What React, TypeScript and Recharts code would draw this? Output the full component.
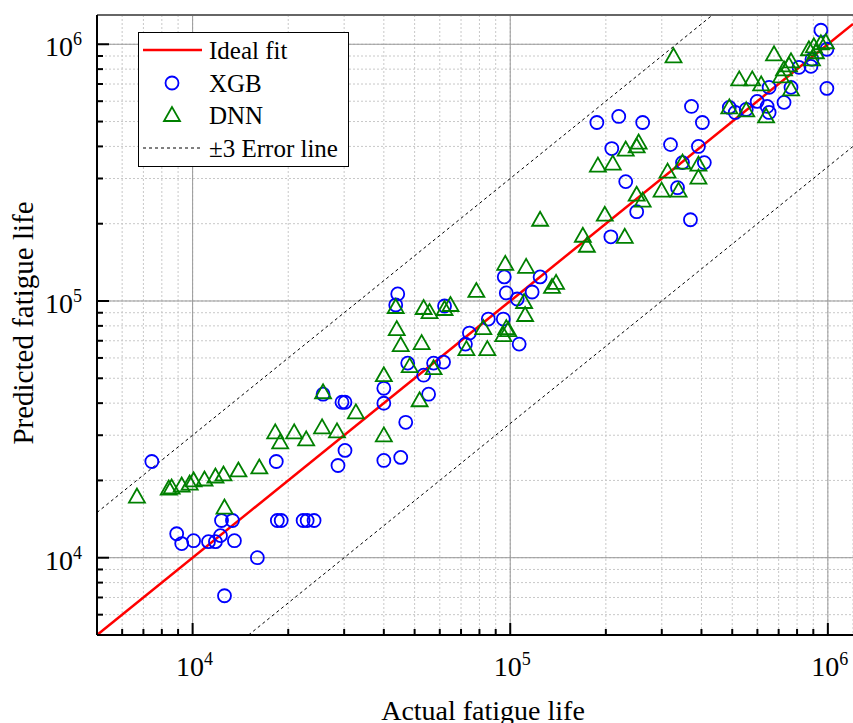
import { CartesianGrid, Label, ReferenceLine, Scatter, ScatterChart, XAxis, YAxis } from 'recharts';

const FONT = '"Liberation Serif", "Times New Roman", Times, serif';

const X_DOMAIN = [5000, 1200000];
const Y_DOMAIN = [5000, 1300000];
const X_TICKS = [
  6000, 7000, 8000, 9000, 10000, 20000, 30000, 40000, 50000, 60000, 70000, 80000, 90000,
  100000, 200000, 300000, 400000, 500000, 600000, 700000, 800000, 900000, 1000000,
];
const Y_TICKS = X_TICKS;
const DECADES = [10000, 100000, 1000000];
const ERROR_FACTOR = 3;

const XGB_ACTUAL = [
  7440, 8910, 9240, 10070, 11220, 11800, 12240, 12330, 13350, 13540, 15990, 12600, 18480, 19010,
  22280, 22940, 24120, 18340, 25750, 29530, 30180, 30180, 28690, 39990, 40000, 40000, 45210, 46880,
  47560, 57370, 61660, 53380, 55330, 44240, 43600, 62110, 74380, 72270, 85310, 95080, 106700, 95760,
  97160, 105200, 117200, 124200, 207400, 250100, 369300, 336300, 231000, 348600, 408400, 208800,
  319600, 391300, 187400, 219600, 261200, 372100, 402700, 489500, 511000, 553400, 599000, 643900,
  653300, 653300, 727800, 811000, 884500, 993000, 950900, 993000, 891300, 765600,
];
const XGB_PREDICTED = [
  23700, 12400, 11350, 11650, 11550, 11550, 12190, 13960, 13960, 11650, 10000, 7110, 13960, 13960,
  13960, 13960, 13960, 23700, 43350, 40330, 40330, 26180, 22870, 45710, 39960, 23930, 24590, 33680,
  57280, 57280, 57800, 51400, 43350, 106500, 96470, 95600, 74990, 67920, 85050, 85050, 67920, 124100,
  107500, 101800, 108400, 124100, 177800, 222700, 207200, 276300, 291700, 345900, 345900, 392400,
  406500, 399800, 495600, 523300, 495600, 572400, 495600, 567600, 542500, 557200, 598900, 572400,
  542500, 679200, 593600, 813000, 820000, 673000, 1134000, 956000, 873600, 679200,
];

const DNN_ACTUAL = [
  6680, 8410, 8590, 9240, 9790, 10070, 10900, 11800, 12510, 13940, 16220, 12600, 18200, 18870,
  20880, 22780, 25560, 28480, 25750, 32660, 40000, 40000, 43600, 43920, 45210, 52600, 48250, 57370,
  51840, 53380, 55720, 62110, 64850, 78240, 72780, 84700, 82270, 96450, 112200, 97160, 98560, 95080,
  110600, 111400, 135400, 139400, 169300, 174300, 198500, 229400, 188800, 210300, 231000, 250100,
  253700, 250100, 261200, 299600, 338800, 312800, 348600, 391300, 391300, 326700, 489500, 553400,
  639100, 526000, 578000, 616600, 677000, 712300, 727800, 754500, 765600, 765600, 871800, 903600,
  917000, 950900, 985700, 891300, 124200,
];
const DNN_PREDICTED = [
  17310, 18600, 18770, 19110, 19450, 20000, 20170, 20720, 21100, 21870, 22470, 15680, 30790, 28130,
  30790, 28900, 32200, 31060, 44110, 36840, 51400, 29970, 94760, 77730, 67330, 68550, 55730, 54730,
  41050, 93910, 90570, 93060, 96470, 109400, 64940, 64940, 78430, 139500, 135800, 78430, 77030, 73650,
  99100, 88170, 113400, 117600, 179500, 164100, 216800, 177800, 336800, 342900, 389000, 399800,
  414200, 259400, 245900, 269000, 269000, 319100, 345900, 339800, 302200, 897700, 567600, 552400,
  523300, 730000, 730000, 698000, 914000, 749900, 798700, 827900, 858400, 667200, 956000, 982000,
  930600, 1009000, 1018000, 873600, 207200,
];

const LEGEND_ITEMS = ['Ideal fit', 'XGB', 'DNN', '\u00b13 Error line'];

const xgbData = XGB_ACTUAL.map((x, i) => ({ x, y: XGB_PREDICTED[i] }));
const dnnData = DNN_ACTUAL.map((x, i) => ({ x, y: DNN_PREDICTED[i] }));

const isDecade = (v: number) => Math.abs(Math.log10(v) - Math.round(Math.log10(v))) < 1e-6;

function XTick({ x, y, payload }: any) {
  const v = payload.value;
  const major = isDecade(v);
  return (
    <g>
      <line x1={x} y1={y} x2={x} y2={y - (major ? 12 : 6)} stroke="#000" strokeWidth={2} />
      {major && (
        <text x={x + 2} y={y + 41} textAnchor="middle" fontFamily={FONT} fontSize={28} fill="#000">
          10
          <tspan dy={-11} fontSize={18}>
            {Math.round(Math.log10(v))}
          </tspan>
        </text>
      )}
    </g>
  );
}

function YTick({ x, y, payload }: any) {
  const v = payload.value;
  const major = isDecade(v);
  return (
    <g>
      <line x1={x} y1={y} x2={x + (major ? 12 : 6)} y2={y} stroke="#000" strokeWidth={2} />
      {major && (
        <text x={x - 15} y={y + 12} textAnchor="end" fontFamily={FONT} fontSize={28} fill="#000">
          10
          <tspan dy={-11} fontSize={18}>
            {Math.round(Math.log10(v))}
          </tspan>
        </text>
      )}
    </g>
  );
}

const Circle = ({ cx, cy }: any) => (
  <circle cx={cx} cy={cy} r={6.5} fill="none" stroke="#0000ff" strokeWidth={1.8} />
);

const Triangle = ({ cx, cy }: any) => (
  <polygon
    points={`${cx},${cy - 8} ${cx - 8},${cy + 6} ${cx + 8},${cy + 6}`}
    fill="none"
    stroke="#008000"
    strokeWidth={1.8}
  />
);

function LegendBox() {
  const rows = [18, 51, 83, 116];
  return (
    <svg width={212} height={136} style={{ position: 'absolute', left: 138, top: 32 }}>
      <rect x={0.5} y={0.5} width={210} height={134} fill="#fff" stroke="#000" strokeWidth={1} />
      <line x1={5} y1={rows[0]} x2={64} y2={rows[0]} stroke="#ff0000" strokeWidth={2.5} />
      <Circle cx={34} cy={rows[1]} />
      <Triangle cx={34} cy={rows[2]} />
      <line x1={5} y1={rows[3]} x2={64} y2={rows[3]} stroke="#000" strokeWidth={1} strokeDasharray="3 3" />
      {LEGEND_ITEMS.map((label, i) => (
        <text key={label} x={71} y={rows[i] + 9} fontFamily={FONT} fontSize={25} fill="#000">
          {label}
        </text>
      ))}
    </svg>
  );
}

export default function App() {
  const [xMin, xMax] = X_DOMAIN;
  const [yMin, yMax] = Y_DOMAIN;
  return (
    <div style={{ position: 'absolute', left: 0, top: 0, width: 853, height: 723, background: '#fff' }}>
      <ScatterChart width={853} height={723} margin={{ top: 15, right: 0, bottom: 0, left: 0 }}>
        <CartesianGrid stroke="#c8c8c8" strokeDasharray="2 2" />
        {DECADES.map((d) => (
          <ReferenceLine key={`vx${d}`} x={d} stroke="#999" strokeWidth={1} />
        ))}
        {DECADES.map((d) => (
          <ReferenceLine key={`hy${d}`} y={d} stroke="#999" strokeWidth={1} />
        ))}
        <ReferenceLine y={yMax} stroke="#666" strokeWidth={2} />
        <XAxis
          dataKey="x"
          type="number"
          scale="log"
          domain={X_DOMAIN}
          allowDataOverflow
          ticks={X_TICKS}
          interval={0}
          tick={<XTick />}
          tickLine={false}
          tickSize={0}
          tickMargin={0}
          axisLine={{ stroke: '#000', strokeWidth: 2 }}
          height={88}
        >
          <Label
            content={() => (
              <text x={483} y={720} textAnchor="middle" fontFamily={FONT} fontSize={28} fill="#000">
                Actual fatigue life
              </text>
            )}
          />
        </XAxis>
        <YAxis
          dataKey="y"
          type="number"
          scale="log"
          domain={Y_DOMAIN}
          allowDataOverflow
          ticks={Y_TICKS}
          interval={0}
          tick={<YTick />}
          tickLine={false}
          tickSize={0}
          tickMargin={0}
          axisLine={{ stroke: '#000', strokeWidth: 2 }}
          width={97}
        >
          <Label
            content={() => (
              <text
                x={33}
                y={323}
                transform="rotate(-90 33 323)"
                textAnchor="middle"
                fontFamily={FONT}
                fontSize={29}
                fill="#000"
              >
                Predicted fatigue life
              </text>
            )}
          />
        </YAxis>
        <ReferenceLine
          segment={[
            { x: xMin * ERROR_FACTOR, y: yMin },
            { x: xMax, y: xMax / ERROR_FACTOR },
          ]}
          stroke="#000"
          strokeWidth={1}
          strokeDasharray="3 3"
        />
        <ReferenceLine
          segment={[
            { x: xMin, y: yMin * ERROR_FACTOR },
            { x: yMax / ERROR_FACTOR, y: yMax },
          ]}
          stroke="#000"
          strokeWidth={1}
          strokeDasharray="3 3"
        />
        <ReferenceLine
          segment={[
            { x: xMin, y: yMin },
            { x: xMax, y: xMax },
          ]}
          stroke="#ff0000"
          strokeWidth={2.5}
        />
        <Scatter name="XGB" data={xgbData} shape={<Circle />} isAnimationActive={false} />
        <Scatter name="DNN" data={dnnData} shape={<Triangle />} isAnimationActive={false} />
      </ScatterChart>
      <LegendBox />
    </div>
  );
}
